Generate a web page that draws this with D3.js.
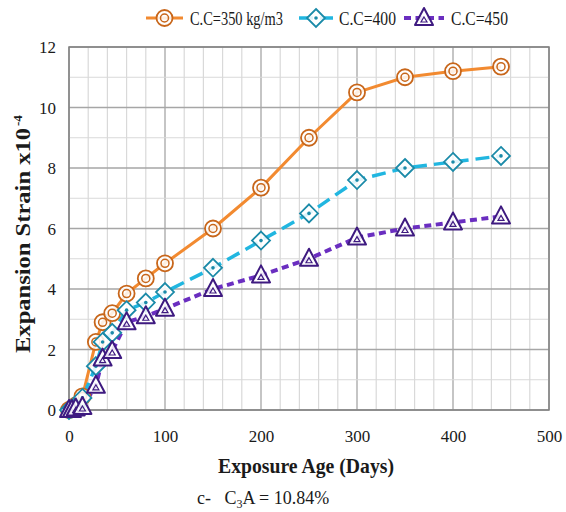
<!DOCTYPE html>
<html><head><meta charset="utf-8">
<script src="https://cdn.jsdelivr.net/npm/d3@7"></script>
<style>body{margin:0;background:#fff;} svg{display:block;} svg text{font-family:"Liberation Serif","DejaVu Serif",serif;}</style>
</head><body>
<svg id="c" width="566" height="512"></svg>
<script>
const days = [0,3,7,14,28,35,45,60,80,100,150,200,250,300,350,400,450];
const cc350 = [0,0.05,0.15,0.45,2.25,2.9,3.2,3.85,4.35,4.85,6.0,7.35,9.0,10.5,11.0,11.2,11.35];
const cc400 = [0,0.05,0.1,0.4,1.45,2.25,2.55,3.3,3.55,3.9,4.7,5.6,6.5,7.6,8.0,8.2,8.4];
const cc450 = [0,0,0.05,0.1,0.8,1.7,1.95,2.9,3.1,3.35,4.0,4.45,5.0,5.7,6.0,6.2,6.4];
const seriesNames = ["C.C=350 kg/m3","C.C=400","C.C=450"];
const xTicks = [0,100,200,300,400,500];
const yTicks = [0,2,4,6,8,10,12];

const svg = d3.select("#c");
const m = {l:69, r:549, t:47, b:410};
const x = d3.scaleLinear().domain([0,500]).range([m.l,m.r]);
const y = d3.scaleLinear().domain([0,12]).range([m.b,m.t]);
const serif = '"Liberation Serif","DejaVu Serif",serif';

const g = svg.append("g");
g.selectAll("line.vx").data(d3.range(0,501,20)).enter().append("line")
  .attr("x1",d=>x(d)).attr("x2",d=>x(d)).attr("y1",m.t).attr("y2",m.b)
  .attr("stroke",d=>d%100===0?"#a6a6a6":"#d9d9d9").attr("stroke-width",d=>d%100===0?1.3:1.2);
g.selectAll("line.hy").data(d3.range(0,12.01,1)).enter().append("line")
  .attr("y1",d=>y(d)).attr("y2",d=>y(d)).attr("x1",m.l).attr("x2",m.r)
  .attr("stroke",d=>d%2===0?"#a6a6a6":"#d9d9d9").attr("stroke-width",d=>d%2===0?1.3:1.2);
svg.append("rect").attr("x",m.l).attr("y",m.t).attr("width",m.r-m.l).attr("height",m.b-m.t)
  .attr("fill","none").attr("stroke","#808080").attr("stroke-width",1.5);

const xa = svg.append("g").attr("transform",`translate(0,${m.b})`)
  .call(d3.axisBottom(x).tickValues(xTicks).tickSize(0).tickPadding(20));
const ya = svg.append("g").attr("transform",`translate(${m.l},0)`)
  .call(d3.axisLeft(y).tickValues(yTicks).tickSize(0).tickPadding(13));
[xa,ya].forEach(a=>{a.attr("font-family",null).attr("font-size",null);
  a.select(".domain").remove();
  a.selectAll("text").style("font-family",serif).style("font-size","17px").attr("fill","#1a1a1a");});
ya.selectAll("text").attr("dy","0.35em");

const series = [
  {name:seriesNames[0], vals:cc350, line:"#f28a30", mk:"#c8661a", dash:null, w:3, shape:"circle"},
  {name:seriesNames[1], vals:cc400, line:"#21b6e0", mk:"#1a8aa8", dash:"14,7", w:3.5, shape:"diamond"},
  {name:seriesNames[2], vals:cc450, line:"#6a2ec0", mk:"#3e1a80", dash:"7,4.5", w:4, shape:"triangle"}
];

function marker(sel, s){
  if(s.shape==="circle"){
    sel.append("circle").attr("r",8).attr("fill","#fff").attr("fill-opacity",0.85).attr("stroke",s.mk).attr("stroke-width",1.8);
    sel.append("circle").attr("r",4).attr("fill","none").attr("stroke",s.mk).attr("stroke-width",1.5);
  } else if(s.shape==="diamond"){
    sel.append("path").attr("d","M0,-9L9,0L0,9L-9,0Z").attr("fill","#fff").attr("fill-opacity",0.85).attr("stroke",s.mk).attr("stroke-width",1.8);
    sel.append("circle").attr("r",1.8).attr("fill",s.mk);
  } else {
    sel.append("path").attr("d","M0,-10L9,7L-9,7Z").attr("fill","#fff").attr("fill-opacity",0.85).attr("stroke",s.mk).attr("stroke-width",2).attr("stroke-linejoin","round");
    sel.append("path").attr("d","M0,-1L3,4L-3,4Z").attr("fill","none").attr("stroke",s.mk).attr("stroke-width",1.2);
  }
}

const line = d3.line().x(d=>x(d[0])).y(d=>y(d[1]));
series.forEach(s=>{
  const pts = days.map((d,i)=>[d,s.vals[i]]);
  svg.append("path").datum(pts).attr("d",line).attr("fill","none")
    .attr("stroke",s.line).attr("stroke-width",s.w).attr("stroke-dasharray",s.dash)
    .attr("stroke-linejoin","round");
});
series.forEach(s=>{
  days.forEach((d,i)=>{
    const gg = svg.append("g").attr("transform",`translate(${x(d)},${y(s.vals[i])})`);
    marker(gg,s);
  });
});

const leg = [{x0:146,x1:183,tx:190,tw:93},{x0:299,x1:333,tx:339,tw:57},{x0:404,x1:444,tx:451,tw:57}];
series.forEach((s,i)=>{
  const L = leg[i], ly=18;
  svg.append("line").attr("x1",L.x0).attr("x2",L.x1).attr("y1",ly).attr("y2",ly)
    .attr("stroke",s.line).attr("stroke-width",s.w).attr("stroke-dasharray",s.dash);
  marker(svg.append("g").attr("transform",`translate(${(L.x0+L.x1)/2},${ly})`),s);
  svg.append("text").attr("x",L.tx).attr("y",ly).attr("dy","0.35em")
    .style("font-family",serif).style("font-size","19px").attr("fill","#1a1a1a")
    .attr("textLength",L.tw).attr("lengthAdjust","spacingAndGlyphs").text(s.name);
});

svg.append("text").attr("x",306).attr("y",473).attr("text-anchor","middle")
  .style("font-family",serif).style("font-weight","bold").style("font-size","21px").attr("fill","#1a1a1a")
  .attr("textLength",176).attr("lengthAdjust","spacingAndGlyphs").text("Exposure Age (Days)");
// y title: main part stretched, superscript after
const yg = svg.append("g").attr("transform","translate(30,353) rotate(-90)");
yg.append("text").attr("x",0).attr("y",0)
  .style("font-family",serif).style("font-weight","bold").style("font-size","20px").attr("fill","#1a1a1a")
  .attr("textLength",225).attr("lengthAdjust","spacingAndGlyphs").text("Expansion Strain x10");
yg.append("text").attr("x",227).attr("y",-8)
  .style("font-family",serif).style("font-weight","bold").style("font-size","13px").attr("fill","#1a1a1a")
  .text("-4");

const cap = svg.append("text").attr("x",197).attr("y",504)
  .style("font-family",serif).style("font-size","18px").attr("fill","#1a1a1a");
cap.append("tspan").text("c-\u00a0\u00a0\u00a0C");
cap.append("tspan").style("font-size","12px").attr("dy",4).text("3");
cap.append("tspan").attr("dy",-4).text("A = 10.84%");
</script>
</body></html>
